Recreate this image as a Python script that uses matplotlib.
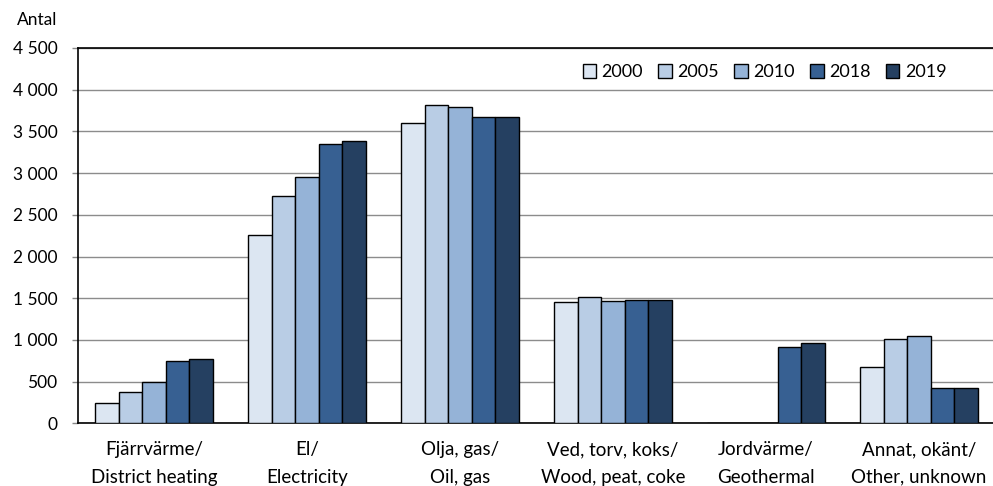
import matplotlib.pyplot as plt
import numpy as np
from matplotlib.ticker import FuncFormatter

plt.rcParams['font.family'] = ['Lato', 'DejaVu Sans']

categories = ['Fjärrvärme/\nDistrict heating', 'El/\nElectricity', 'Olja, gas/\nOil, gas',
              'Ved, torv, koks/\nWood, peat, coke', 'Jordvärme/\nGeothermal', 'Annat, okänt/\nOther, unknown']
years = ['2000', '2005', '2010', '2018', '2019']
v2000 = [245, 2260, 3605, 1455, 0, 672]
v2005 = [380, 2720, 3820, 1515, 0, 1015]
v2010 = [500, 2950, 3795, 1472, 0, 1050]
v2018 = [750, 3350, 3675, 1475, 920, 425]
v2019 = [770, 3390, 3675, 1475, 960, 425]
series = [v2000, v2005, v2010, v2018, v2019]
colors = ['#DCE6F2', '#B9CDE5', '#95B3D7', '#376092', '#254061']

fig = plt.figure(figsize=(9.93, 4.86), dpi=100)
ax = fig.add_axes([77.5 / 993, (486 - 423.3) / 486, (993 - 77.5) / 993, 375.3 / 486])

x = np.arange(len(categories))
w = 0.154
for i, (vals, c, yr) in enumerate(zip(series, colors, years)):
    ax.bar(x + (i - 2) * w, vals, w, color=c, edgecolor='black', linewidth=1.0, label=yr, zorder=3)

ax.set_ylim(0, 4500)
ax.set_yticks(np.arange(0, 4501, 500))
ax.yaxis.set_major_formatter(FuncFormatter(lambda v, p: f'{int(v):,}'.replace(',', ' ')))
ax.set_xlim(-0.5, -0.5 + (993 - 77.5) / 153)
ax.set_xticks(x)
ax.set_xticklabels(categories, linespacing=1.75)
ax.tick_params(axis='x', length=0, labelsize=13.5, pad=13)
ax.tick_params(axis='y', length=4.5, width=1, color='#888888', labelsize=12.5, pad=10)
ax.grid(axis='y', color='#8c8c8c', linewidth=1.0, zorder=0)
for s in ['left', 'bottom', 'top']:
    ax.spines[s].set_color('black')
    ax.spines[s].set_linewidth(1.2)
ax.spines['right'].set_visible(False)

fig.text(57 / 993, 1 - 20 / 486, 'Antal', fontsize=12.5, ha='right', va='center')

ax.legend(loc='upper right', bbox_to_anchor=(0.963, 0.99), ncol=5, frameon=False, fontsize=13,
          handlelength=0.75, handleheight=0.75, handletextpad=0.3, columnspacing=0.85, borderaxespad=0.3)

fig.savefig('out.png', dpi=100)
